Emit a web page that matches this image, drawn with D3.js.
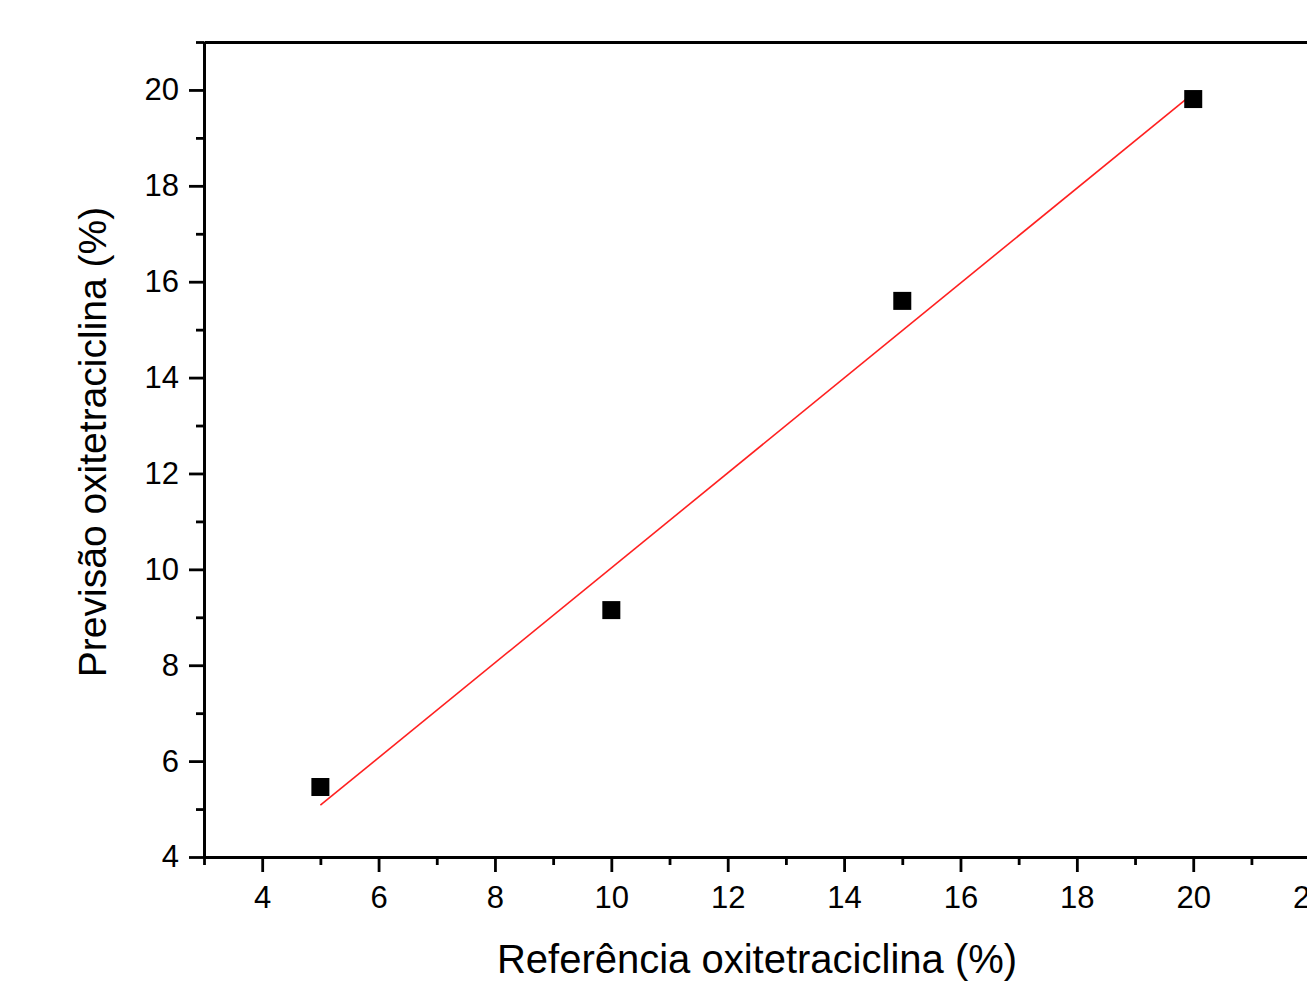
<!DOCTYPE html>
<html>
<head>
<meta charset="utf-8">
<script src="https://cdn.jsdelivr.net/npm/d3@7"></script>
<style>
body { margin: 0; background: #fff; }
svg text { font-family: "Liberation Sans", Arial, sans-serif; fill: #000; }
</style>
</head>
<body>
<svg id="chart" width="1307" height="983"></svg>
<script>
// measured points
var refX = [5, 10, 15, 20]
var predY = [5.46, 9.15, 15.6, 19.81]
// fitted line ends
var fitX = [5, 20]
var fitY = [5.08, 19.93]
var xTicks = [4, 6, 8, 10, 12, 14, 16, 18, 20, 22]
var yTicks = [4, 6, 8, 10, 12, 14, 16, 18, 20]
var xLabel = 'Referência oxitetraciclina (%)'
var yLabel = 'Previsão oxitetraciclina (%)'

var svg = d3.select('#chart')
var x = d3.scaleLinear().domain([3, 23]).range([204, 204 + 20 * 58.19])
var y = d3.scaleLinear().domain([4, 21]).range([857, 42])

var xMinor = d3.range(3, 23.5, 1).filter(v => v % 2 == 1)
var yMinor = d3.range(5, 21.5, 2)

// major ticks
svg.append('g')
    .attr('transform', 'translate(0,857)')
    .call(d3.axisBottom(x).tickValues(xTicks).tickSize(15).tickPadding(14).tickSizeOuter(0))
svg.append('g')
    .attr('transform', 'translate(204,0)')
    .call(d3.axisLeft(y).tickValues(yTicks).tickSize(15).tickPadding(10).tickSizeOuter(0))
// minor ticks
svg.append('g')
    .attr('transform', 'translate(0,857)')
    .call(d3.axisBottom(x).tickValues(xMinor).tickSize(8).tickFormat('').tickSizeOuter(0))
svg.append('g')
    .attr('transform', 'translate(204,0)')
    .call(d3.axisLeft(y).tickValues(yMinor).tickSize(8).tickFormat('').tickSizeOuter(0))
// top frame with tiny inner ticks
svg.append('g')
    .attr('transform', 'translate(0,42)')
    .call(d3.axisTop(x).tickValues(xTicks.concat(xMinor)).tickSize(-2).tickFormat('').tickSizeOuter(0))

svg.selectAll('.domain').attr('stroke', '#000').attr('stroke-width', 2.8)
svg.selectAll('.tick line').attr('stroke', '#000').attr('stroke-width', 2.8)
svg.selectAll('.tick text').attr('font-size', 31).attr('fill', '#000')
    .style('font-family', '"Liberation Sans", Arial, sans-serif')

// fit line
svg.append('line')
    .attr('x1', x(fitX[0])).attr('y1', y(fitY[0]))
    .attr('x2', x(fitX[1])).attr('y2', y(fitY[1]))
    .attr('stroke', '#ff2020').attr('stroke-width', 1.6)

// points
svg.append('g').selectAll('rect')
    .data(refX)
    .enter()
    .append('rect')
    .attr('x', (d) => x(d) - 9)
    .attr('y', (d, i) => y(predY[i]) - 9)
    .attr('width', 18)
    .attr('height', 18)
    .attr('fill', '#000')

svg.append('text').text(xLabel)
    .attr('x', 757).attr('y', 973)
    .attr('text-anchor', 'middle').attr('font-size', 40)
svg.append('text').text(yLabel)
    .attr('transform', 'translate(106,442) rotate(-90)')
    .attr('text-anchor', 'middle').attr('font-size', 39)
</script>
</body>
</html>
